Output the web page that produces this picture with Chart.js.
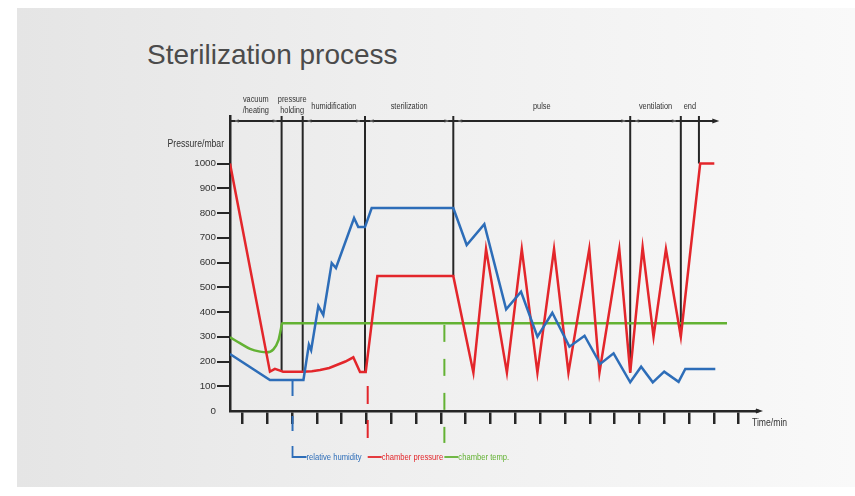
<!DOCTYPE html>
<html>
<head>
<meta charset="utf-8">
<script src="https://cdn.jsdelivr.net/npm/chart.js"></script>
<style>
  html, body { margin: 0; padding: 0; background: #fff; }
  #panel { position: absolute; left: 17px; top: 8px; width: 838px; height: 479px;
           background: linear-gradient(to right, #e5e5e5 0%, #efefef 45%, #f9f9f9 100%); }
  #title { position: absolute; left: 147px; top: 41px; font: 28px 'Liberation Sans', Arial, sans-serif;
           line-height: 28px; color: #4b4b4b; white-space: nowrap; }
  #c { position: absolute; left: 0; top: 0; }
</style>
</head>
<body>
<div id="panel"></div>
<div id="title">Sterilization process</div>
<canvas id="c" width="855" height="496"></canvas>
<script>
// time axis runs in tick units (ticks at 0.5, 1.5 ... 20.5), values in mbar
var yTicks = [0, 100, 200, 300, 400, 500, 600, 700, 800, 900, 1000];
var xTicks = [0.5, 1.5, 2.5, 3.5, 4.5, 5.5, 6.5, 7.5, 8.5, 9.5, 10.5, 11.5, 12.5, 13.5, 14.5, 15.5, 16.5, 17.5, 18.5, 19.5, 20.5];

var pressureT = [0, 1.61, 1.81, 2.02, 2.14, 2.94, 3.3, 3.63, 4.0, 4.3, 4.65, 4.97, 5.24, 5.47, 5.71, 5.94, 9.0,
                 9.81, 10.32, 11.16, 11.76, 12.39, 13.06, 13.64, 14.48, 14.89, 15.69, 16.13, 16.63, 17.07, 17.57, 18.17, 18.95, 19.52];
var pressureV = [1000, 159, 170, 163, 159, 159, 161, 166, 174, 186, 200, 217, 158, 158, 354, 545, 545,
                 155, 654, 155, 654, 155, 654, 155, 654, 155, 654, 155, 661, 300, 654, 300, 1000, 1000];

var humidityT = [0, 1.61, 2.96, 3.18, 3.27, 3.56, 3.76, 4.10, 4.27, 5.00, 5.17, 5.44, 5.71, 9.00, 9.54, 10.25, 11.13, 11.73,
                 12.39, 12.99, 13.68, 14.29, 14.92, 15.46, 16.13, 16.57, 17.04, 17.50, 18.08, 18.35, 19.56];
var humidityV = [230, 125, 125, 268, 246, 424, 388, 598, 578, 780, 743, 743, 820, 820, 671, 755, 411, 482,
                 300, 397, 260, 304, 190, 233, 116, 179, 116, 159, 118, 170, 170];

var tempT = [0, 0.40, 0.81, 1.21, 1.48, 1.75, 1.95, 2.05, 2.10, 20.03];
var tempV = [298, 274, 251, 240, 237, 249, 285, 330, 355, 355];

var phaseNames = [['vacuum', '/heating'], ['pressure', 'holding'], ['humidification'], ['sterilization'], ['pulse'], ['ventilation'], ['end']];
var phaseEdges = [0, 2.08, 2.93, 5.44, 9.0, 16.13, 18.17, 18.9];
var phaseEdgeEnds = [0, 158, 158, 158, 545, 155, 300, 1000];
var headerLevel = 1172;
var headerEnd = 19.56;

var legendNames = ['relative humidity', 'chamber pressure', 'chamber temp.'];
var markerT = [2.52, 5.55, 8.64];
var markerFrom = [121, 101, 348];
var markerTo = [-85, -109, -129];

var colors = ['#2d6db8', '#e3262b', '#63b233'];
var sans = "'Liberation Sans', Arial, sans-serif";

function pts(t, v) {
  return t.map(function (x, i) { return { x: x, y: v[i] }; });
}

// narrow text: Arial squeezed to look like Arial Narrow
function narrowText(ctx, text, x, y, align) {
  ctx.save();
  ctx.translate(x, y);
  ctx.scale(0.82, 1);
  ctx.textAlign = align;
  ctx.fillText(text, 0, 0);
  ctx.restore();
}

var markerSets = markerT.map(function (t, i) {
  return {
    data: [{ x: t, y: markerFrom[i] }, { x: t, y: markerTo[i] }],
    borderColor: colors[i], borderWidth: 2, borderDash: i == 0 ? [15, 20] : (i == 1 ? [18, 16] : [17, 17]),
    pointRadius: 0, clip: false
  };
});

var decor = {
  id: 'decor',
  beforeDatasetsDraw: function (chart) {
    var ctx = chart.ctx, x = chart.scales.x, y = chart.scales.y;
    ctx.save();
    ctx.strokeStyle = '#262626';
    ctx.lineWidth = 2;
    for (var i = 1; i < phaseEdges.length; i++) {
      var px = x.getPixelForValue(phaseEdges[i]);
      ctx.beginPath();
      ctx.moveTo(px, y.getPixelForValue(y.max));
      ctx.lineTo(px, y.getPixelForValue(phaseEdgeEnds[i]));
      ctx.stroke();
    }
    ctx.restore();
  },
  afterDraw: function (chart) {
    var ctx = chart.ctx, x = chart.scales.x, y = chart.scales.y, area = chart.chartArea;
    ctx.save();
    // header line with arrow
    var hy = y.getPixelForValue(headerLevel);
    var hx = x.getPixelForValue(headerEnd);
    ctx.strokeStyle = '#262626';
    ctx.lineWidth = 2;
    ctx.beginPath(); ctx.moveTo(area.left, hy); ctx.lineTo(hx, hy); ctx.stroke();
    ctx.fillStyle = '#262626';
    ctx.beginPath(); ctx.moveTo(hx + 4, hy); ctx.lineTo(hx - 3, hy - 2.5); ctx.lineTo(hx - 3, hy + 2.5); ctx.fill();
    // small arrows inside each phase
    ctx.lineWidth = 0.8;
    ctx.strokeStyle = '#777';
    for (var i = 0; i < phaseNames.length; i++) {
      var a = x.getPixelForValue(phaseEdges[i]), b = x.getPixelForValue(phaseEdges[i + 1]);
      if (b - a > 30) {
        ctx.beginPath();
        ctx.moveTo(a + 9, hy - 1.3); ctx.lineTo(a + 5, hy); ctx.lineTo(a + 9, hy + 1.3);
        ctx.moveTo(b - 9, hy - 1.3); ctx.lineTo(b - 5, hy); ctx.lineTo(b - 9, hy + 1.3);
        ctx.stroke();
      }
    }
    // phase labels
    ctx.fillStyle = '#333';
    ctx.font = '9px ' + sans;
    ctx.textBaseline = 'middle';
    for (var i = 0; i < phaseNames.length; i++) {
      var cx = (x.getPixelForValue(phaseEdges[i]) + x.getPixelForValue(phaseEdges[i + 1])) / 2;
      var lines = phaseNames[i];
      if (lines.length == 1) {
        narrowText(ctx, lines[0], cx, hy - 14, 'center');
      } else {
        narrowText(ctx, lines[0], cx, hy - 21, 'center');
        narrowText(ctx, lines[1], cx, hy - 10.5, 'center');
      }
    }
    // axis titles
    ctx.fillStyle = '#333';
    ctx.font = '10.5px ' + sans;
    narrowText(ctx, 'Pressure/mbar', area.left - 6, 144, 'right');
    narrowText(ctx, 'Time/min', area.right - 4, area.bottom + 12, 'left');
    // x axis arrow
    ctx.strokeStyle = '#262626';
    ctx.lineWidth = 2.5;
    ctx.beginPath(); ctx.moveTo(area.right - 1, area.bottom); ctx.lineTo(area.right + 3, area.bottom); ctx.stroke();
    ctx.fillStyle = '#262626';
    ctx.beginPath(); ctx.moveTo(area.right + 7, area.bottom); ctx.lineTo(area.right, area.bottom - 2.5); ctx.lineTo(area.right, area.bottom + 2.5); ctx.fill();
    // legend
    var ly = area.bottom + 46;
    ctx.font = '9.3px ' + sans;
    ctx.lineWidth = 1.8;
    for (var i = 0; i < legendNames.length; i++) {
      var mx = x.getPixelForValue(markerT[i]);
      ctx.strokeStyle = colors[i];
      ctx.fillStyle = colors[i];
      ctx.beginPath();
      if (i == 0) { ctx.moveTo(mx, ly - 11); ctx.lineTo(mx, ly); } else { ctx.moveTo(mx, ly); }
      ctx.lineTo(mx + 14, ly);
      ctx.stroke();
      narrowText(ctx, legendNames[i], mx + 14, ly, 'left');
    }
    ctx.restore();
  }
};

var chart = new Chart(document.getElementById('c'), {
  type: 'line',
  data: {
    datasets: [
      { data: pts(humidityT, humidityV), borderColor: colors[0], borderWidth: 2.5, pointRadius: 0, tension: 0 },
      { data: pts(pressureT, pressureV), borderColor: colors[1], borderWidth: 2.5, pointRadius: 0, tension: 0 },
      { data: pts(tempT, tempV), borderColor: colors[2], borderWidth: 2.5, pointRadius: 0, cubicInterpolationMode: 'monotone' }
    ].concat(markerSets)
  },
  options: {
    responsive: false,
    animation: false,
    devicePixelRatio: 1,
    layout: { padding: { left: 180, right: 99, top: 116, bottom: 72 } },
    plugins: { legend: { display: false }, tooltip: { enabled: false } },
    scales: {
      x: {
        type: 'linear', min: 0, max: 21.2,
        afterBuildTicks: function (s) { s.ticks = xTicks.map(function (v) { return { value: v }; }); },
        afterFit: function (s) { s.height = 13; },
        ticks: { display: false },
        grid: { drawOnChartArea: false, tickLength: 13, lineWidth: 2.5, color: '#262626' },
        border: { color: '#262626', width: 2.5 }
      },
      y: {
        min: 0, max: 1192,
        afterBuildTicks: function (s) { s.ticks = yTicks.map(function (v) { return { value: v }; }); },
        afterFit: function (s) { s.width = 50; },
        ticks: { padding: 1, color: '#333', font: { family: sans, size: 9.8 },
                 callback: function (v) { return String(v); } },
        grid: {
          drawOnChartArea: false, tickLength: 13, lineWidth: 2,
          color: function (c) { return c.tick && c.tick.value === 0 ? 'rgba(0,0,0,0)' : '#262626'; }
        },
        border: { color: '#262626', width: 2.5 }
      }
    }
  },
  plugins: [decor]
});
</script>
</body>
</html>
